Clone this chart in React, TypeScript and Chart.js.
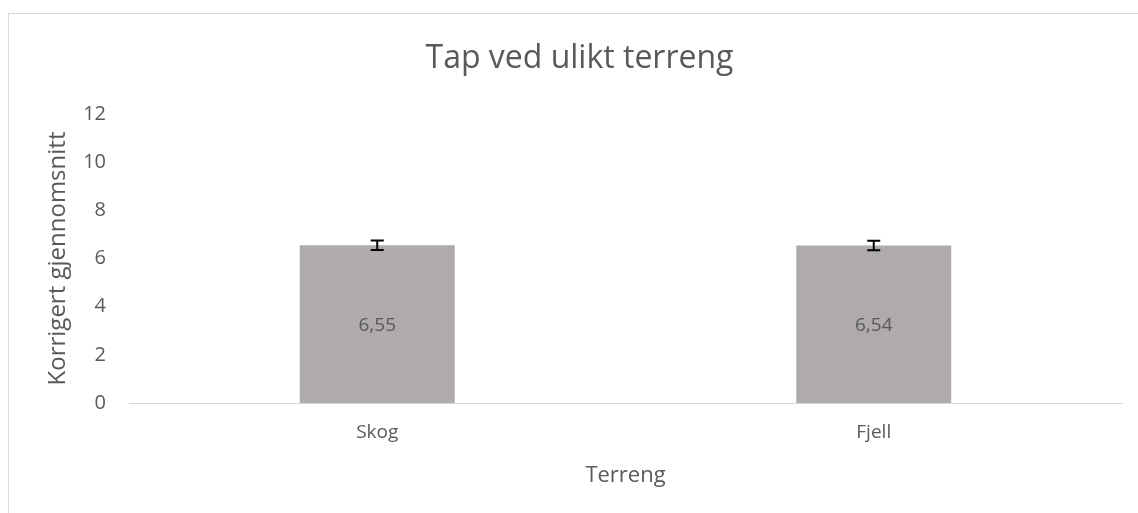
import React, { useEffect, useRef } from "react";
import { Chart, registerables } from "chart.js";

Chart.register(...registerables);

const categories = ["Skog", "Fjell"];
const values = [6.55, 6.54];
const errors = [0.2, 0.2];
const valueLabels = ["6,55", "6,54"];
const yTicks = [0, 2, 4, 6, 8, 10, 12];

const TEXT = "#595959";
const FONT = "'Open Sans', 'Noto Sans', sans-serif";

const titlePlugin = {
  id: "ownTitle",
  afterDraw(chart: any) {
    const { ctx } = chart;
    ctx.save();
    ctx.fillStyle = TEXT;
    ctx.font = `32px ${FONT}`;
    ctx.textAlign = "center";
    ctx.textBaseline = "middle";
    ctx.fillText("Tap ved ulikt terreng", chart.width / 2 + 6, 45);
    ctx.restore();
  },
};

const barExtrasPlugin = {
  id: "barExtras",
  afterDatasetsDraw(chart: any) {
    const { ctx } = chart;
    const meta = chart.getDatasetMeta(0);
    const y = chart.scales.y;
    ctx.save();
    meta.data.forEach((bar: any, i: number) => {
      const x = bar.x;
      const top = y.getPixelForValue(values[i] + errors[i]);
      const bot = y.getPixelForValue(values[i] - errors[i]);
      ctx.strokeStyle = "#000000";
      ctx.lineWidth = 2;
      ctx.beginPath();
      ctx.moveTo(x, top);
      ctx.lineTo(x, bot);
      ctx.moveTo(x - 6.5, top);
      ctx.lineTo(x + 6.5, top);
      ctx.moveTo(x - 6.5, bot);
      ctx.lineTo(x + 6.5, bot);
      ctx.stroke();
      ctx.fillStyle = TEXT;
      ctx.font = `19px ${FONT}`;
      ctx.textAlign = "center";
      ctx.textBaseline = "middle";
      ctx.fillText(valueLabels[i], x, (bar.y + bar.base) / 2 + 1);
    });
    ctx.restore();
  },
};

export default function App() {
  const ref = useRef<HTMLCanvasElement | null>(null);
  useEffect(() => {
    if (!ref.current) return;
    const chart = new Chart(ref.current, {
      type: "bar",
      data: {
        labels: categories,
        datasets: [
          {
            data: values,
            backgroundColor: "#AEABAA",
            borderWidth: 0,
            barPercentage: 0.312,
            categoryPercentage: 1,
          },
        ],
      },
      options: {
        animation: false,
        responsive: false,
        maintainAspectRatio: false,
        layout: { padding: { top: 100, right: 16, left: 0, bottom: 0 } },
        plugins: {
          legend: { display: false },
          tooltip: { enabled: false },
          title: { display: false },
        },
        scales: {
          x: {
            grid: { display: false, drawTicks: false },
            border: { display: true, color: "#D9D9D9", width: 1 },
            ticks: { color: TEXT, font: { family: FONT, size: 19 }, padding: 18 },
            title: {
              display: true,
              text: "Terreng",
              color: TEXT,
              font: { family: FONT, size: 22 },
              padding: { top: 0, bottom: 24 },
            },
            afterFit(scale: any) {
              scale.height = 110;
            },
          },
          y: {
            min: 0,
            max: 12,
            grid: { display: false, drawTicks: false },
            border: { display: false },
            afterBuildTicks(scale: any) {
              scale.ticks = yTicks.map((v) => ({ value: v }));
            },
            ticks: { color: TEXT, font: { family: FONT, size: 20 }, padding: 23 },
            title: {
              display: true,
              text: "Korrigert gjennomsnitt",
              color: TEXT,
              font: { family: FONT, size: 24 },
              padding: { top: 35, bottom: 0 },
            },
            afterFit(scale: any) {
              scale.width = 120;
            },
          },
        },
      },
      plugins: [titlePlugin, barExtrasPlugin],
    });
    return () => chart.destroy();
  }, []);

  return (
    <div
      style={{
        position: "absolute",
        left: 8,
        top: 13,
        width: 1130,
        height: 500,
        boxSizing: "border-box",
        borderLeft: "1px solid #D9D9D9",
        borderTop: "1px solid #D9D9D9",
        background: "#FFFFFF",
        overflow: "hidden",
      }}
    >
      <canvas ref={ref} width={1129} height={499} style={{ display: "block" }} />
    </div>
  );
}
